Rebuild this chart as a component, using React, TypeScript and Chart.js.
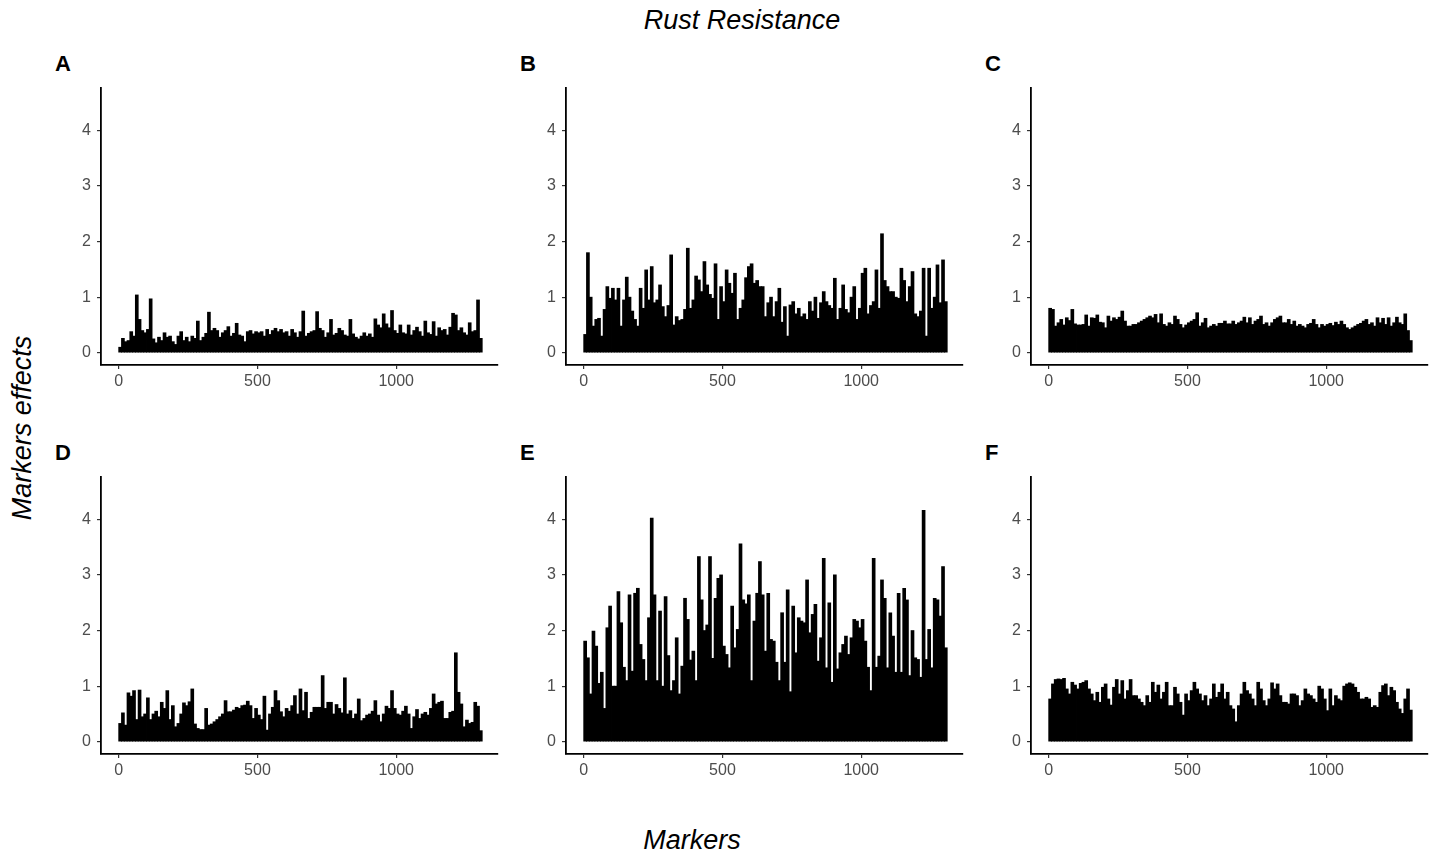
import React, { useEffect, useRef } from "react";
import { Chart, registerables } from "chart.js";

Chart.register(...registerables);

// Marker positions (centre of each group of 10 markers)
const markerPos: number[] = Array.from({ length: 131 }, (_, i) => i * 10 + 5);

const xTicks = [0, 500, 1000];
const yTicks = [0, 1, 2, 3, 4];

const effectsA = [
  0.10, 0.26, 0.20, 0.22, 0.38, 0.30, 1.04, 0.60, 0.40, 0.36,
  0.42, 0.97, 0.25, 0.18, 0.28, 0.22, 0.36, 0.28, 0.30, 0.20,
  0.15, 0.30, 0.38, 0.22, 0.28, 0.20, 0.30, 0.26, 0.57, 0.22,
  0.28, 0.35, 0.73, 0.40, 0.44, 0.40, 0.28, 0.36, 0.40, 0.47,
  0.30, 0.35, 0.53, 0.32, 0.30, 0.20, 0.38, 0.40, 0.34, 0.38,
  0.36, 0.38, 0.30, 0.42, 0.33, 0.40, 0.44, 0.38, 0.42, 0.36,
  0.38, 0.30, 0.42, 0.36, 0.28, 0.38, 0.75, 0.30, 0.35, 0.38,
  0.40, 0.74, 0.44, 0.40, 0.28, 0.36, 0.60, 0.32, 0.35, 0.44,
  0.40, 0.32, 0.30, 0.60, 0.34, 0.28, 0.25, 0.30, 0.36, 0.30,
  0.34, 0.28, 0.61, 0.50, 0.45, 0.70, 0.52, 0.45, 0.76, 0.40,
  0.35, 0.50, 0.36, 0.34, 0.50, 0.32, 0.40, 0.46, 0.38, 0.30,
  0.57, 0.36, 0.33, 0.56, 0.30, 0.45, 0.40, 0.42, 0.32, 0.46,
  0.71, 0.68, 0.40, 0.45, 0.36, 0.32, 0.54, 0.38, 0.40, 0.95,
  0.26,
];

const effectsB = [
  0.33, 1.80, 1.00, 0.48, 0.60, 0.62, 0.30, 0.78, 1.19, 0.98,
  1.16, 0.95, 1.16, 0.48, 0.95, 1.36, 1.00, 0.75, 0.60, 0.48,
  1.16, 0.80, 1.49, 0.95, 1.55, 0.90, 0.95, 1.22, 0.83, 0.65,
  0.85, 1.76, 0.50, 0.65, 0.58, 0.60, 0.78, 1.88, 0.80, 0.95,
  1.38, 1.31, 1.10, 1.64, 1.22, 1.05, 0.98, 1.60, 0.60, 1.19,
  0.92, 1.49, 1.25, 1.07, 1.43, 0.60, 0.80, 0.95, 1.35, 1.55,
  1.60, 1.25, 1.30, 1.19, 1.19, 0.65, 0.90, 1.00, 0.65, 0.92,
  1.16, 0.55, 0.83, 0.30, 0.86, 0.92, 0.70, 0.80, 0.65, 0.70,
  0.60, 0.92, 0.75, 1.00, 0.62, 0.90, 1.10, 0.92, 0.85, 0.80,
  1.34, 0.60, 0.80, 1.22, 0.78, 0.72, 1.00, 1.19, 0.60, 0.80,
  1.43, 1.52, 0.70, 0.85, 0.92, 1.49, 0.80, 2.14, 1.30, 1.19,
  1.10, 1.10, 1.00, 0.98, 1.52, 1.30, 0.92, 1.19, 1.46, 0.70,
  0.65, 0.75, 1.52, 0.30, 1.52, 0.80, 1.00, 1.58, 0.90, 1.67,
  0.92,
];

const effectsC = [
  0.80, 0.78, 0.48, 0.54, 0.60, 0.50, 0.63, 0.58, 0.78, 0.52,
  0.50, 0.50, 0.51, 0.68, 0.48, 0.63, 0.62, 0.68, 0.55, 0.54,
  0.45, 0.66, 0.57, 0.63, 0.60, 0.64, 0.75, 0.57, 0.48, 0.48,
  0.51, 0.51, 0.54, 0.57, 0.60, 0.63, 0.66, 0.63, 0.69, 0.54,
  0.70, 0.51, 0.48, 0.54, 0.51, 0.66, 0.60, 0.51, 0.45, 0.50,
  0.54, 0.57, 0.60, 0.72, 0.48, 0.54, 0.62, 0.45, 0.48, 0.51,
  0.48, 0.53, 0.53, 0.57, 0.52, 0.52, 0.57, 0.51, 0.54, 0.57,
  0.64, 0.54, 0.63, 0.51, 0.57, 0.60, 0.66, 0.51, 0.54, 0.48,
  0.54, 0.60, 0.63, 0.66, 0.54, 0.54, 0.60, 0.51, 0.57, 0.48,
  0.51, 0.48, 0.45, 0.51, 0.53, 0.60, 0.51, 0.45, 0.51, 0.48,
  0.51, 0.53, 0.49, 0.55, 0.51, 0.57, 0.51, 0.45, 0.42, 0.45,
  0.48, 0.51, 0.53, 0.57, 0.60, 0.51, 0.54, 0.48, 0.63, 0.54,
  0.62, 0.51, 0.63, 0.48, 0.54, 0.64, 0.54, 0.51, 0.70, 0.40,
  0.22,
];

const effectsD = [
  0.33, 0.52, 0.30, 0.88, 0.82, 0.92, 0.40, 0.93, 0.45, 0.50,
  0.79, 0.40, 0.50, 0.55, 0.45, 0.71, 0.60, 0.92, 0.40, 0.65,
  0.27, 0.33, 0.50, 0.70, 0.65, 0.72, 0.95, 0.32, 0.24, 0.22,
  0.22, 0.60, 0.30, 0.32, 0.36, 0.40, 0.45, 0.50, 0.74, 0.54,
  0.54, 0.57, 0.62, 0.60, 0.65, 0.66, 0.73, 0.65, 0.42, 0.60,
  0.48, 0.40, 0.82, 0.21, 0.50, 0.62, 0.92, 0.74, 0.54, 0.45,
  0.60, 0.55, 0.65, 0.83, 0.50, 0.95, 0.56, 0.89, 0.42, 0.53,
  0.62, 0.62, 0.62, 1.19, 0.60, 0.71, 0.71, 0.50, 0.67, 0.60,
  0.52, 1.15, 0.50, 0.56, 0.42, 0.50, 0.77, 0.38, 0.42, 0.48,
  0.50, 0.55, 0.74, 0.48, 0.36, 0.50, 0.64, 0.60, 0.92, 0.60,
  0.50, 0.48, 0.55, 0.64, 0.50, 0.24, 0.45, 0.58, 0.42, 0.50,
  0.53, 0.48, 0.60, 0.86, 0.68, 0.71, 0.73, 0.42, 0.42, 0.53,
  0.55, 1.60, 0.89, 0.68, 0.27, 0.39, 0.33, 0.35, 0.71, 0.64,
  0.20,
];

const effectsE = [
  1.81, 1.51, 0.86, 1.99, 1.72, 1.05, 1.25, 0.60, 2.05, 2.44,
  1.00, 1.00, 2.70, 2.14, 1.34, 1.10, 2.64, 1.27, 2.67, 2.76,
  1.75, 1.48, 1.10, 2.23, 4.02, 2.64, 1.10, 2.35, 1.00, 2.61,
  1.55, 0.92, 1.10, 1.87, 0.86, 1.36, 2.58, 2.20, 1.47, 1.63,
  1.10, 3.33, 2.55, 2.00, 2.10, 3.33, 1.50, 2.58, 2.94, 3.00,
  1.72, 1.57, 1.33, 2.44, 1.69, 2.02, 3.56, 2.55, 2.48, 2.64,
  1.10, 2.17, 2.67, 3.24, 2.64, 1.63, 2.67, 1.84, 1.81, 1.43,
  1.10, 2.32, 1.43, 2.73, 0.90, 2.44, 1.60, 2.23, 2.17, 2.14,
  2.91, 1.96, 2.29, 2.47, 1.45, 1.87, 3.30, 1.33, 2.50, 1.07,
  3.00, 1.31, 1.60, 1.75, 1.90, 1.57, 1.87, 2.20, 2.17, 2.05,
  2.20, 1.81, 1.34, 0.92, 3.30, 1.34, 1.54, 2.91, 2.58, 1.33,
  2.32, 1.90, 1.25, 2.67, 1.25, 2.76, 2.55, 1.19, 2.00, 1.51,
  1.48, 1.16, 4.16, 1.48, 2.02, 1.33, 2.58, 2.55, 2.26, 3.15,
  1.69,
];

const effectsF = [
  0.77, 1.04, 1.12, 1.13, 1.12, 1.14, 0.95, 0.86, 1.07, 1.02,
  0.95, 1.05, 1.07, 1.10, 0.95, 0.86, 0.74, 0.89, 0.71, 0.98,
  1.04, 0.77, 0.66, 0.98, 1.12, 0.86, 1.10, 0.77, 0.92, 1.12,
  0.83, 0.83, 0.77, 0.71, 0.65, 0.83, 0.71, 1.07, 0.89, 1.02,
  0.77, 0.89, 1.07, 0.65, 0.65, 0.98, 0.86, 0.71, 0.48, 0.86,
  0.74, 0.92, 1.07, 0.95, 0.86, 0.74, 0.83, 0.65, 0.77, 1.04,
  0.80, 0.89, 1.04, 0.77, 0.89, 0.65, 0.59, 0.36, 0.65, 0.86,
  1.07, 0.92, 0.86, 0.77, 0.65, 1.07, 0.95, 0.74, 0.65, 0.77,
  1.06, 0.95, 1.04, 0.83, 0.71, 0.71, 0.68, 0.86, 0.86, 0.83,
  0.65, 0.74, 0.95, 0.86, 0.83, 0.77, 0.71, 1.00, 0.95, 0.77,
  0.56, 0.95, 0.65, 0.83, 0.77, 0.74, 1.00, 1.04, 1.06, 1.04,
  0.98, 0.89, 0.77, 0.77, 0.80, 0.77, 0.62, 0.65, 0.62, 0.89,
  1.01, 1.04, 0.83, 0.98, 0.92, 0.71, 0.59, 0.51, 0.77, 0.95,
  0.57,
];

const panelLetters = ["A", "B", "C", "D", "E", "F"];
const panelSeries = [effectsA, effectsB, effectsC, effectsD, effectsE, effectsF];

const FONT = "'Liberation Sans', Arial, Helvetica, sans-serif";
const AREA_W = 397;
const AREA_H = 277;
const PAD_L = 60;
const PAD_T = 16;
const PAD_R = 12;
const PAD_B = 40;

function Panel({ values, left, top }: { values: number[]; left: number; top: number }) {
  const ref = useRef<HTMLCanvasElement | null>(null);
  useEffect(() => {
    if (!ref.current) return;
    const chart = new Chart(ref.current, {
      type: "bar",
      data: {
        datasets: [
          {
            data: values.map((v, i) => ({ x: markerPos[i], y: v })),
            backgroundColor: "#000000",
            borderWidth: 0,
            barThickness: 3,
            grouped: false,
          } as any,
        ],
      },
      options: {
        animation: false,
        responsive: false,
        devicePixelRatio: 1,
        layout: { padding: { top: PAD_T, right: PAD_R, left: 0, bottom: 0 } },
        plugins: { legend: { display: false }, tooltip: { enabled: false } },
        scales: {
          x: {
            type: "linear",
            min: -64,
            max: 1367,
            offset: false,
            afterBuildTicks: (s: any) => {
              s.ticks = xTicks.map((v) => ({ value: v }));
            },
            afterFit: (s: any) => {
              s.height = PAD_B;
            },
            grid: { offset: false, drawOnChartArea: false, drawTicks: true, tickLength: 4, color: "#333333", lineWidth: 1.2 },
            border: { display: true, color: "#000000", width: 1.8 },
            ticks: {
              color: "#4D4D4D",
              font: { family: FONT, size: 16 },
              padding: 3,
              maxRotation: 0,
              autoSkip: false,
              callback: (v: any) => String(v),
            },
          },
          y: {
            type: "linear",
            min: -0.22,
            max: 4.76,
            afterBuildTicks: (s: any) => {
              s.ticks = yTicks.map((v) => ({ value: v }));
            },
            afterFit: (s: any) => {
              s.width = PAD_L;
            },
            grid: { offset: false, drawOnChartArea: false, drawTicks: true, tickLength: 4, color: "#333333", lineWidth: 1.2 },
            border: { display: true, color: "#000000", width: 1.8 },
            ticks: { color: "#4D4D4D", font: { family: FONT, size: 16 }, padding: 6, callback: (v: any) => String(v) },
          },
        },
      },
    } as any);
    return () => chart.destroy();
  }, [values]);
  return (
    <canvas
      ref={ref}
      width={PAD_L + AREA_W + PAD_R}
      height={PAD_T + AREA_H + PAD_B}
      style={{ position: "absolute", left: left - PAD_L, top: top - PAD_T, width: PAD_L + AREA_W + PAD_R, height: PAD_T + AREA_H + PAD_B }}
    />
  );
}

const colLefts = [101, 566, 1031];
const rowTops = [88, 477];
const letterLefts = [55, 520, 985];
const letterTops = [53, 442];

export default function App() {
  return (
    <div style={{ position: "absolute", left: 0, top: 0, width: 1434, height: 856, background: "#ffffff", fontFamily: FONT, overflow: "hidden" }}>
      <div style={{ position: "absolute", left: 0, width: 1434, top: 7, textAlign: "center", paddingLeft: 50, boxSizing: "border-box", fontSize: 27, lineHeight: "27px", fontStyle: "italic", color: "#000" }}>
        Rust Resistance
      </div>
      {panelSeries.map((vals, i) => {
        const r = Math.floor(i / 3);
        const c = i % 3;
        return (
          <React.Fragment key={i}>
            <div style={{ position: "absolute", left: letterLefts[c], top: letterTops[r], fontSize: 22, lineHeight: "22px", fontWeight: "bold", color: "#000" }}>
              {panelLetters[i]}
            </div>
            <Panel values={vals} left={colLefts[c]} top={rowTops[r]} />
          </React.Fragment>
        );
      })}
      <div style={{ position: "absolute", left: 22, top: 428, transform: "translate(-50%, -50%) rotate(-90deg)", whiteSpace: "nowrap", fontSize: 27, lineHeight: "27px", fontStyle: "italic", color: "#000" }}>
        Markers effects
      </div>
      <div style={{ position: "absolute", left: 0, width: 1384, top: 827, textAlign: "center", fontSize: 27, lineHeight: "27px", fontStyle: "italic", color: "#000" }}>
        Markers
      </div>
    </div>
  );
}
